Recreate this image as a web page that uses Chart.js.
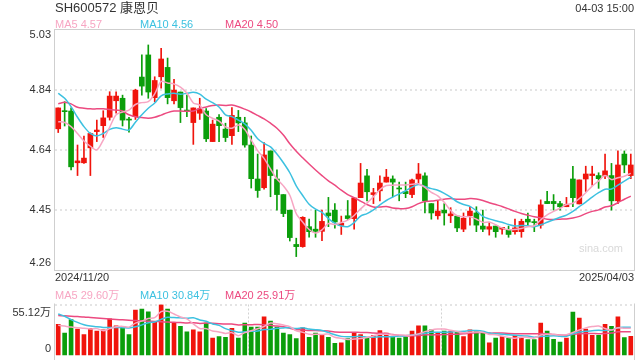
<!DOCTYPE html>
<html>
<head>
<meta charset="utf-8">
<script src="https://cdn.jsdelivr.net/npm/chart.js@4.4.1/dist/chart.umd.min.js"></script>
<style>
html, body { margin: 0; padding: 0; background: #fff; }
#wrap { position: relative; width: 640px; height: 360px; overflow: hidden; font-family: "Liberation Sans", Arial, "Noto Sans CJK SC", sans-serif; }
#priceBox { position: absolute; left: 0; top: 0; width: 640px; height: 290px; }
#volBox { position: absolute; left: 0; top: 290px; width: 640px; height: 70px; }
.txt { position: absolute; white-space: nowrap; line-height: 1; font-size: 11px; color: #333; }
</style>
</head>
<body>
<div id="wrap">
  <div id="priceBox"><canvas id="priceChart"></canvas></div>
  <div id="volBox"><canvas id="volumeChart"></canvas></div>
  <div class="txt" id="title" style="left:55px;top:1px;font-size:13px;"></div>
  <div class="txt" id="stamp" style="right:6px;top:3px;"></div>
  <div class="txt" id="ma5Txt" style="left:55px;top:19px;"></div>
  <div class="txt" id="ma10Txt" style="left:140px;top:19px;"></div>
  <div class="txt" id="ma20Txt" style="left:225px;top:19px;"></div>
  <div class="txt" id="vma5Txt" style="left:55px;top:290px;"></div>
  <div class="txt" id="vma10Txt" style="left:140px;top:290px;"></div>
  <div class="txt" id="vma20Txt" style="left:225px;top:290px;"></div>
</div>
<script>
var stockName = 'SH600572 康恩贝';
var stampText = '04-03 15:00';

var dates = [
  '2024/11/20','2024/11/21','2024/11/22','2024/11/25','2024/11/26','2024/11/27','2024/11/28','2024/11/29',
  '2024/12/02','2024/12/03','2024/12/04','2024/12/05','2024/12/06','2024/12/09','2024/12/10','2024/12/11',
  '2024/12/12','2024/12/13','2024/12/16','2024/12/17','2024/12/18','2024/12/19','2024/12/20','2024/12/23',
  '2024/12/24','2024/12/25','2024/12/26','2024/12/27','2024/12/30','2024/12/31',
  '2025/01/02','2025/01/03','2025/01/06','2025/01/07','2025/01/08','2025/01/09','2025/01/10','2025/01/13',
  '2025/01/14','2025/01/15','2025/01/16','2025/01/17','2025/01/20','2025/01/21','2025/01/22','2025/01/23',
  '2025/01/24','2025/01/27','2025/02/05','2025/02/06','2025/02/07','2025/02/10','2025/02/11','2025/02/12',
  '2025/02/13','2025/02/14','2025/02/17','2025/02/18','2025/02/19','2025/02/20','2025/02/21','2025/02/24',
  '2025/02/25','2025/02/26','2025/02/27','2025/02/28','2025/03/03','2025/03/04','2025/03/05','2025/03/06',
  '2025/03/07','2025/03/10','2025/03/11','2025/03/12','2025/03/13','2025/03/14','2025/03/17','2025/03/18',
  '2025/03/19','2025/03/20','2025/03/21','2025/03/24','2025/03/25','2025/03/26','2025/03/27','2025/03/28',
  '2025/03/31','2025/04/01','2025/04/02','2025/04/03'
];

var opens = [4.713,4.770,4.770,4.604,4.604,4.652,4.704,4.723,4.750,4.803,
  4.811,4.743,4.752,4.879,4.950,4.813,4.880,4.910,4.803,4.831,
  4.772,4.733,4.763,4.770,4.672,4.750,4.712,4.691,4.750,4.732,
  4.661,4.552,4.524,4.642,4.552,4.502,4.452,4.342,4.335,4.399,
  4.391,4.384,4.443,4.452,4.403,4.434,4.425,4.492,4.562,4.502,
  4.514,4.542,4.552,4.522,4.512,4.502,4.552,4.562,4.473,4.434,
  4.452,4.434,4.433,4.391,4.434,4.443,4.401,4.391,4.401,4.391,
  4.390,4.383,4.383,4.423,4.414,4.404,4.480,4.480,4.473,4.463,
  4.552,4.472,4.552,4.563,4.563,4.563,4.563,4.482,4.632,4.563];
var highs = [4.780,4.800,4.780,4.661,4.690,4.700,4.741,4.771,4.832,4.832,
  4.821,4.750,4.840,4.950,4.982,4.880,4.971,4.940,4.872,4.831,
  4.821,4.780,4.811,4.778,4.741,4.759,4.731,4.781,4.772,4.750,
  4.690,4.632,4.669,4.642,4.581,4.502,4.452,4.362,4.431,4.423,
  4.452,4.452,4.493,4.473,4.433,4.483,4.491,4.602,4.583,4.522,
  4.562,4.583,4.562,4.542,4.542,4.552,4.602,4.572,4.473,4.482,
  4.473,4.460,4.433,4.443,4.463,4.463,4.452,4.412,4.401,4.397,
  4.401,4.423,4.423,4.443,4.423,4.485,4.512,4.502,4.480,4.493,
  4.593,4.549,4.593,4.593,4.572,4.632,4.602,4.642,4.642,4.632];
var lows = [4.701,4.722,4.581,4.563,4.602,4.563,4.672,4.685,4.741,4.763,
  4.722,4.702,4.743,4.821,4.811,4.800,4.843,4.793,4.793,4.733,
  4.752,4.663,4.743,4.672,4.672,4.672,4.672,4.663,4.704,4.654,
  4.523,4.493,4.519,4.495,4.452,4.431,4.353,4.303,4.333,4.365,
  4.365,4.354,4.399,4.394,4.374,4.422,4.391,4.492,4.482,4.473,
  4.482,4.542,4.495,4.482,4.492,4.492,4.538,4.443,4.423,4.423,
  4.404,4.412,4.383,4.383,4.404,4.383,4.383,4.372,4.365,4.375,
  4.365,4.375,4.365,4.404,4.383,4.394,4.473,4.452,4.452,4.463,
  4.463,4.472,4.512,4.532,4.522,4.553,4.452,4.473,4.572,4.553];
var closes = [4.780,4.768,4.591,4.610,4.619,4.698,4.709,4.748,4.818,4.818,
  4.741,4.741,4.837,4.850,4.831,4.868,4.937,4.813,4.837,4.781,
  4.770,4.780,4.777,4.681,4.728,4.723,4.685,4.756,4.732,4.661,
  4.553,4.515,4.629,4.563,4.502,4.441,4.364,4.335,4.429,4.383,
  4.384,4.416,4.434,4.414,4.410,4.425,4.491,4.539,4.511,4.508,
  4.539,4.558,4.542,4.520,4.505,4.549,4.568,4.482,4.443,4.449,
  4.443,4.440,4.395,4.426,4.449,4.404,4.391,4.399,4.383,4.397,
  4.374,4.395,4.416,4.414,4.412,4.469,4.473,4.473,4.463,4.470,
  4.492,4.549,4.568,4.568,4.553,4.578,4.482,4.597,4.597,4.597];

var ma5 = [4.736,4.733,4.720,4.698,4.674,4.657,4.645,4.677,4.718,4.758,
  4.767,4.773,4.791,4.797,4.800,4.825,4.865,4.860,4.857,4.847,
  4.828,4.796,4.789,4.758,4.747,4.738,4.719,4.715,4.725,4.711,
  4.677,4.643,4.618,4.584,4.552,4.530,4.500,4.441,4.414,4.390,
  4.379,4.389,4.409,4.406,4.412,4.420,4.435,4.456,4.475,4.495,
  4.518,4.531,4.532,4.533,4.533,4.535,4.537,4.525,4.509,4.498,
  4.477,4.451,4.434,4.431,4.431,4.423,4.413,4.414,4.405,4.395,
  4.389,4.390,4.393,4.399,4.402,4.421,4.437,4.448,4.458,4.470,
  4.474,4.489,4.508,4.529,4.546,4.563,4.550,4.556,4.561,4.570];
var ma10 = [4.827,4.811,4.784,4.750,4.720,4.698,4.690,4.698,4.711,4.716,
  4.712,4.709,4.734,4.758,4.779,4.796,4.819,4.825,4.827,4.824,
  4.827,4.830,4.824,4.808,4.797,4.783,4.758,4.752,4.741,4.729,
  4.708,4.681,4.666,4.655,4.632,4.604,4.572,4.530,4.499,4.471,
  4.455,4.445,4.425,4.410,4.401,4.399,4.412,4.433,4.441,4.453,
  4.469,4.483,4.494,4.504,4.514,4.526,4.534,4.528,4.521,4.516,
  4.506,4.494,4.479,4.470,4.464,4.450,4.432,4.424,4.418,4.413,
  4.406,4.401,4.403,4.402,4.399,4.405,4.413,4.421,4.429,4.436,
  4.448,4.463,4.478,4.494,4.508,4.519,4.520,4.532,4.545,4.558];
var ma20 = [4.793,4.798,4.793,4.782,4.779,4.777,4.777,4.777,4.775,4.773,
  4.770,4.758,4.752,4.749,4.747,4.750,4.757,4.765,4.770,4.770,
  4.769,4.770,4.779,4.783,4.788,4.789,4.788,4.789,4.784,4.776,
  4.767,4.756,4.745,4.731,4.715,4.693,4.665,4.641,4.620,4.600,
  4.581,4.563,4.546,4.532,4.516,4.502,4.492,4.481,4.470,4.462,
  4.462,4.464,4.459,4.457,4.457,4.463,4.473,4.480,4.481,4.484,
  4.487,4.489,4.487,4.487,4.489,4.488,4.483,4.476,4.470,4.464,
  4.456,4.448,4.441,4.436,4.431,4.427,4.423,4.422,4.423,4.424,
  4.427,4.432,4.441,4.448,4.453,4.462,4.466,4.476,4.487,4.497];

// volume in 万 shares
var volumes = [33.8,24.4,38.9,28.7,22.9,29.5,26.6,28.0,39.7,32.4,
  31.7,22.9,49.1,50.2,47.3,36.0,55.12,50.2,36.0,31.7,
  25.8,28.0,25.8,35.3,19.3,20.7,20.0,29.5,19.3,35.3,
  30.9,30.9,41.8,37.5,30.9,24.4,22.9,18.6,30.2,20.0,
  24.4,22.2,20.0,13.5,14.2,18.6,24.4,22.9,19.3,22.2,
  27.3,24.4,20.0,19.3,20.0,26.6,32.4,32.4,28.0,24.4,
  26.6,26.6,25.8,20.7,28.0,27.3,25.1,14.2,19.3,20.7,
  19.3,22.2,19.3,17.5,17.5,35.3,26.6,17.8,15.0,19.3,
  47.0,40.5,28.7,22.2,22.2,33.8,31.7,41.8,19.6,21.1];
var volMa5 = [33.0,32.0,31.0,30.2,29.7,28.9,29.3,27.1,29.3,31.2,
  31.7,30.9,35.2,37.3,40.2,41.1,47.5,47.8,44.9,41.8,
  39.8,34.3,29.5,29.3,26.8,25.8,24.2,25.0,21.8,25.0,
  27.0,29.2,31.6,35.3,34.4,33.1,31.5,26.9,25.4,23.2,
  23.2,23.1,23.4,20.0,18.9,17.7,18.1,18.7,19.9,21.5,
  23.2,23.2,22.6,22.6,22.2,22.1,23.7,26.1,27.9,28.8,
  28.8,27.6,26.3,24.8,25.5,25.7,25.4,23.1,22.8,21.3,
  19.7,19.1,20.2,19.8,19.2,22.4,23.2,22.9,22.4,22.8,
  25.1,27.9,30.1,31.5,32.1,29.5,27.7,30.3,29.8,29.60];
var volMa10 = [45.0,42.5,39.0,36.0,33.5,32.0,31.2,30.6,30.4,30.5,
  30.3,30.1,31.2,33.3,35.7,36.4,39.2,41.5,41.1,41.0,
  40.4,40.9,38.6,37.1,34.3,32.8,29.3,27.2,25.5,25.9,
  26.4,26.7,28.3,28.5,29.7,30.1,30.3,29.3,30.3,28.8,
  28.2,27.3,25.1,22.7,21.0,20.5,20.6,21.0,20.0,20.2,
  20.5,20.7,20.7,21.3,21.8,22.6,23.4,24.4,25.3,25.5,
  25.4,25.6,26.2,26.4,27.2,27.2,26.5,24.7,23.8,23.4,
  22.7,22.3,21.6,21.3,20.2,21.0,21.2,21.6,21.1,21.0,
  23.8,25.6,26.5,27.0,27.5,27.3,27.8,30.2,30.7,30.84];
var volMa20 = [43.3,43.0,42.6,42.2,41.8,41.2,40.6,40.1,39.6,39.1,
  38.7,38.3,37.9,37.6,37.3,37.0,36.7,36.3,36.0,35.8,
  35.4,35.5,34.9,35.2,35.0,34.6,34.3,34.3,33.3,33.5,
  33.4,33.8,33.5,32.8,32.0,31.4,29.8,28.2,27.9,27.4,
  27.3,27.0,26.7,25.6,25.4,25.3,25.5,25.1,25.1,24.5,
  24.3,24.0,22.9,22.0,21.4,21.6,22.0,22.7,22.6,22.8,
  22.9,23.2,23.4,23.8,24.5,24.9,25.0,24.5,24.5,24.5,
  24.1,23.9,23.9,23.8,23.7,24.1,23.8,23.1,22.5,22.2,
  23.2,23.9,24.1,24.1,23.9,24.2,24.5,25.9,25.9,25.91];

var priceTicks = [4.26, 4.4525, 4.645, 4.8375, 5.03];
var priceTickLabels = ['4.26', '4.45', '4.64', '4.84', '5.03'];
var volMax = 55.12;
var volTickLabels = ['0', '55.12万'];

var upColor = '#f0140c';
var downColor = '#0b9e0b';
var ma5Color = '#f7a6c3';
var ma10Color = '#3dc1e0';
var ma20Color = '#ec4a80';
var labelFont = '11px "Liberation Sans", Arial, "Noto Sans CJK SC", sans-serif';

var barColors = closes.map(function(c, i){ return c >= opens[i] ? upColor : downColor; });

function last(arr){ return arr[arr.length - 1]; }

document.getElementById('title').textContent = stockName;
document.getElementById('stamp').textContent = stampText;
function setLegend(id, text, color){
  var el = document.getElementById(id);
  el.textContent = text;
  el.style.color = color;
}
setLegend('ma5Txt', 'MA5 ' + last(ma5).toFixed(2), ma5Color);
setLegend('ma10Txt', 'MA10 ' + last(ma10).toFixed(2), ma10Color);
setLegend('ma20Txt', 'MA20 ' + last(ma20).toFixed(2), ma20Color);
setLegend('vma5Txt', 'MA5 ' + last(volMa5).toFixed(2) + '万', ma5Color);
setLegend('vma10Txt', 'MA10 ' + last(volMa10).toFixed(2) + '万', ma10Color);
setLegend('vma20Txt', 'MA20 ' + last(volMa20).toFixed(2) + '万', ma20Color);

function maLine(values, color){
  return {
    type: 'line',
    data: values,
    borderColor: color,
    borderWidth: 1.5,
    pointRadius: 0,
    tension: 0.3,
    order: 0
  };
}

var transparent = 'rgba(0,0,0,0)';

var priceFrame = {
  id: 'priceFrame',
  afterDraw: function(chart){
    var ctx = chart.ctx, a = chart.chartArea, y = chart.scales.y;
    ctx.save();
    ctx.strokeStyle = '#cfcfcf';
    ctx.lineWidth = 1;
    ctx.strokeRect(a.left - 0.5, a.top - 0.5, a.right - a.left + 1, a.bottom - a.top + 1);
    ctx.font = labelFont;
    ctx.fillStyle = '#333';
    ctx.textBaseline = 'middle';
    ctx.textAlign = 'right';
    for (var i = 0; i < priceTicks.length; i++) {
      var py = y.getPixelForValue(priceTicks[i]);
      if (i === 0) py -= 7;
      if (i === priceTicks.length - 1) py += 5;
      ctx.fillText(priceTickLabels[i], a.left - 4, py);
    }
    ctx.textAlign = 'left';
    ctx.fillText(dates[0], a.left, a.bottom + 8);
    ctx.textAlign = 'right';
    ctx.fillText(last(dates), a.right, a.bottom + 8);
    ctx.fillStyle = '#d9d9d9';
    ctx.fillText('sina.com', a.right - 11, a.bottom - 21);
    ctx.restore();
  }
};

var volFrame = {
  id: 'volFrame',
  afterDraw: function(chart){
    var ctx = chart.ctx, a = chart.chartArea;
    ctx.save();
    ctx.strokeStyle = '#cfcfcf';
    ctx.lineWidth = 1;
    ctx.beginPath();
    ctx.moveTo(a.left - 0.5, a.top - 1);
    ctx.lineTo(a.left - 0.5, a.bottom + 4);
    ctx.moveTo(a.right + 0.5, a.top - 1);
    ctx.lineTo(a.right + 0.5, a.bottom + 4);
    ctx.stroke();
    ctx.font = labelFont;
    ctx.fillStyle = '#333';
    ctx.textBaseline = 'middle';
    ctx.textAlign = 'right';
    ctx.fillText(volTickLabels[1], a.left - 4, a.top + 8);
    ctx.fillText(volTickLabels[0], a.left - 4, a.bottom - 7);
    ctx.restore();
  }
};

new Chart(document.getElementById('priceChart'), {
  type: 'bar',
  data: {
    labels: dates,
    datasets: [
      maLine(ma5, ma5Color),
      maLine(ma10, ma10Color),
      maLine(ma20, ma20Color),
      {
        data: opens.map(function(o, i){ return [o, closes[i]]; }),
        backgroundColor: barColors,
        barThickness: 5,
        minBarLength: 1,
        grouped: false,
        order: 1
      },
      {
        data: lows.map(function(l, i){ return [l, highs[i]]; }),
        backgroundColor: barColors,
        barThickness: 1,
        grouped: false,
        order: 2
      }
    ]
  },
  options: {
    responsive: true,
    maintainAspectRatio: false,
    animation: false,
    layout: { padding: { left: 55, right: 6, top: 30, bottom: 20 } },
    plugins: { legend: { display: false }, tooltip: { enabled: false } },
    scales: {
      x: { display: false },
      y: {
        min: priceTicks[0],
        max: last(priceTicks),
        afterBuildTicks: function(s){ s.ticks = priceTicks.map(function(v){ return { value: v }; }); },
        afterFit: function(s){ s.width = 0; },
        ticks: { display: false },
        grid: {
          drawTicks: false,
          lineWidth: 2,
          color: function(c){ return (c.index === 0 || c.index === priceTicks.length - 1) ? transparent : '#e4e4e4'; }
        },
        border: { display: false, dash: [2, 3] }
      }
    }
  },
  plugins: [priceFrame]
});

new Chart(document.getElementById('volumeChart'), {
  type: 'bar',
  data: {
    labels: dates,
    datasets: [
      maLine(volMa5, ma5Color),
      maLine(volMa10, ma10Color),
      maLine(volMa20, ma20Color),
      {
        data: volumes,
        backgroundColor: barColors,
        barThickness: 4,
        grouped: false,
        order: 1
      }
    ]
  },
  options: {
    responsive: true,
    maintainAspectRatio: false,
    animation: false,
    layout: { padding: { left: 55, right: 6, top: 14.5, bottom: 4 } },
    plugins: { legend: { display: false }, tooltip: { enabled: false } },
    scales: {
      x: {
        display: true,
        afterFit: function(s){ s.height = 0; },
        ticks: { display: false, autoSkip: false },
        grid: {
          drawTicks: false,
          offset: true,
          lineWidth: 1,
          color: function(c){ return (c.index === 30 || c.index === 60) ? '#d2d2d2' : transparent; }
        },
        border: { display: false, dash: [2, 2] }
      },
      y: {
        min: 0,
        max: volMax,
        afterBuildTicks: function(s){ s.ticks = [{ value: 0 }, { value: volMax }]; },
        afterFit: function(s){ s.width = 0; },
        ticks: { display: false },
        grid: {
          drawTicks: false,
          lineWidth: 2,
          color: function(c){ return c.index === 1 ? '#e4e4e4' : transparent; }
        },
        border: { display: false, dash: [2, 3] }
      }
    }
  },
  plugins: [volFrame]
});
</script>
</body>
</html>
